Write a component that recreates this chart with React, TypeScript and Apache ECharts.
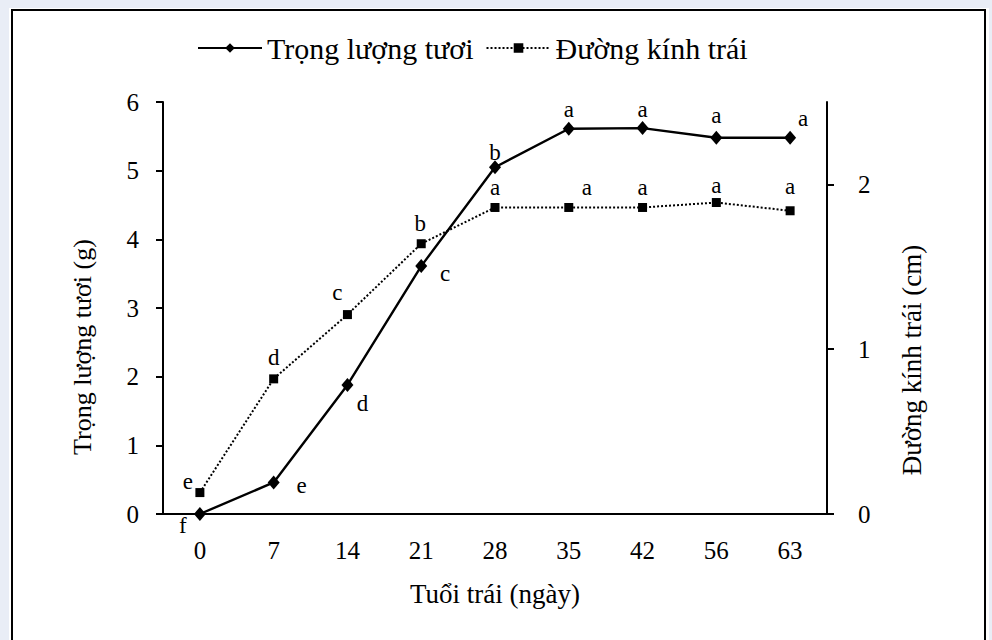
import React, { useEffect, useRef } from "react";
import * as echarts from "echarts";

const categories = ["0", "7", "14", "21", "28", "35", "42", "56", "63"];
const weightValues = [0.0, 0.46, 1.88, 3.61, 5.05, 5.61, 5.62, 5.48, 5.48];
const diameterValues = [0.13, 0.82, 1.21, 1.64, 1.86, 1.86, 1.86, 1.89, 1.84];
const weightLetters = ["f", "e", "d", "c", "b", "a", "a", "a", "a"];
const diameterLetters = ["e", "d", "c", "b", "a", "a", "a", "a", "a"];
const leftTicks = [0, 1, 2, 3, 4, 5, 6];
const rightTicks = [0, 1, 2];
const seriesNames = ["Trọng lượng tươi", "Đường kính trái"];
const xTitle = "Tuổi trái (ngày)";
const leftTitle = "Trọng lượng tươi (g)";
const rightTitle = "Đường kính trái (cm)";

// label offsets (styling only)
const weightLabelOffsets = [
  [-17, 11], [28, 3], [15, 19], [24, 7], [0, -15], [0, -19], [0, -19], [0, -22], [13, -19],
];
const diameterLabelOffsets = [
  [-12, -11], [0, -21], [-10, -22], [-1, -20], [0, -20], [18, -20], [0, -20], [0, -17], [0, -24],
];

const FONT = "'Liberation Serif', 'Times New Roman', serif";

export default function App() {
  const ref = useRef<HTMLDivElement>(null);
  useEffect(() => {
    if (!ref.current) return;
    const chart = echarts.init(ref.current, null, { renderer: "svg" });
    const labelStyle = {
      show: true,
      position: "inside" as const,
      fontFamily: FONT,
      fontSize: 23,
      color: "#000",
    };
    chart.setOption({
      animation: false,
      backgroundColor: "transparent",
      textStyle: { fontFamily: FONT, color: "#000" },
      legend: {
        left: 197,
        top: 33,
        padding: 0,
        itemWidth: 64,
        itemHeight: 12,
        itemGap: 12,
        textStyle: { fontFamily: FONT, fontSize: 30, color: "#000" },
        data: seriesNames,
      },
      grid: { left: 163, right: 165, top: 102, bottom: 126, containLabel: false },
      graphic: [
        {
          type: "text",
          x: 82,
          y: 347,
          rotation: Math.PI / 2,
          style: { text: leftTitle, font: `26px ${FONT}`, fill: "#000", textAlign: "center", textVerticalAlign: "middle" },
        },
        {
          type: "text",
          x: 912,
          y: 360,
          rotation: Math.PI / 2,
          style: { text: rightTitle, font: `27px ${FONT}`, fill: "#000", textAlign: "center", textVerticalAlign: "middle" },
        },
      ],
      xAxis: {
        type: "category",
        data: categories,
        boundaryGap: true,
        name: xTitle,
        nameLocation: "middle",
        nameGap: 66,
        nameTextStyle: { fontFamily: FONT, fontSize: 27, color: "#000" },
        axisLine: { lineStyle: { color: "#000", width: 2 } },
        axisTick: { alignWithLabel: true, length: 7, lineStyle: { color: "#000", width: 2 } },
        axisLabel: { fontFamily: FONT, fontSize: 25, color: "#000", margin: 24 },
        splitLine: { show: false },
      },
      yAxis: [
        {
          type: "value",
          min: 0,
          max: 6,
          interval: 1,
          position: "left",
          axisLine: { show: true, lineStyle: { color: "#000", width: 2 } },
          axisTick: { show: true, length: 7, lineStyle: { color: "#000", width: 2 } },
          axisLabel: { fontFamily: FONT, fontSize: 25, color: "#000", margin: 24, customValues: leftTicks },
          splitLine: { show: false },
        },
        {
          type: "value",
          min: 0,
          max: 2.5,
          position: "right",
          axisLine: { show: true, lineStyle: { color: "#000", width: 2 } },
          axisTick: { show: true, length: 7, lineStyle: { color: "#000", width: 2 }, customValues: rightTicks },
          axisLabel: { fontFamily: FONT, fontSize: 25, color: "#000", margin: 31, customValues: rightTicks },
          splitLine: { show: false },
        },
      ],
      series: [
        {
          name: seriesNames[0],
          type: "line",
          yAxisIndex: 0,
          symbol: "diamond",
          symbolSize: [12, 14],
          itemStyle: { color: "#000" },
          lineStyle: { color: "#000", width: 2.4, type: "solid" },
          label: { ...labelStyle, formatter: (p: any) => weightLetters[p.dataIndex] },
          data: weightValues.map((v, i) => ({ value: v, label: { offset: weightLabelOffsets[i] } })),
          z: 3,
        },
        {
          name: seriesNames[1],
          type: "line",
          yAxisIndex: 1,
          symbol: "rect",
          symbolSize: 9,
          itemStyle: { color: "#000" },
          lineStyle: { color: "#000", width: 2, type: "dotted" },
          label: { ...labelStyle, formatter: (p: any) => diameterLetters[p.dataIndex] },
          data: diameterValues.map((v, i) => ({ value: v, label: { offset: diameterLabelOffsets[i] } })),
          z: 2,
        },
      ],
    });
    return () => chart.dispose();
  }, []);

  return (
    <div style={{ position: "absolute", left: 0, top: 0, width: 992, height: 640, background: "#e9edf6", overflow: "hidden" }}>
      <div style={{ position: "absolute", left: 9, top: 8, width: 980, height: 660, background: "#fff" }} />
      <div style={{ position: "absolute", left: 11, top: 9, width: 971, height: 660, border: "2px solid #000", background: "#fff" }} />
      <div ref={ref} style={{ position: "absolute", left: 0, top: 0, width: 992, height: 640 }} />
    </div>
  );
}
